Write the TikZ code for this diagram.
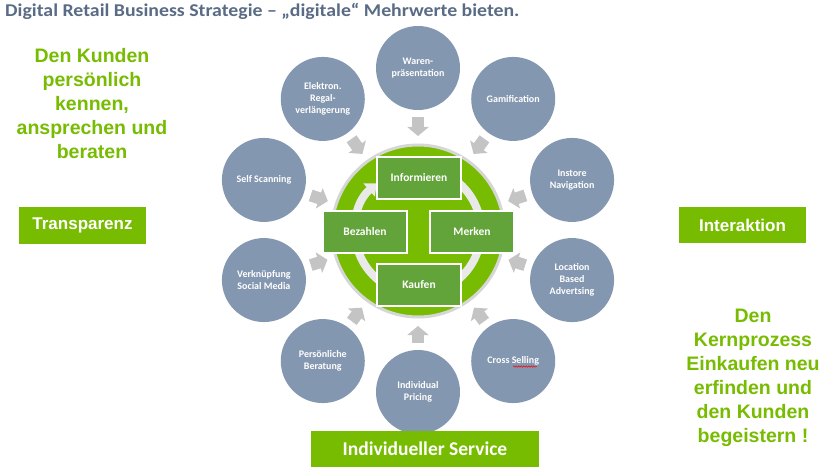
\documentclass[tikz,border=0pt]{standalone}
\usepackage{fontspec}
\setmainfont{Carlito}
\newfontfamily\arial{Liberation Sans}
\newfontfamily\titlefont{Carlito}[FakeStretch=1.1]
\usetikzlibrary{arrows.meta,decorations.pathmorphing}
\definecolor{kgreen}{HTML}{77BC00}
\definecolor{dgreen}{HTML}{62A33A}
\definecolor{slate}{HTML}{8497B0}
\definecolor{titlec}{HTML}{5A6C85}
\definecolor{agray}{HTML}{C4C4C4}
\definecolor{ringc}{HTML}{E9E9E9}
\definecolor{borderc}{HTML}{D6D6D6}
\begin{document}
\begin{tikzpicture}[x=1pt,y=1pt,
 sat/.style={circle, fill=slate, minimum size=84pt, inner sep=1pt, align=center, text=white, font=\bfseries\fontsize{10}{12}\selectfont},
 stage/.style={rectangle, fill=dgreen, draw=white, line width=1.2pt, minimum width=84pt, minimum height=42pt, text=white, font=\bfseries\fontsize{11.5}{13}\selectfont},
 tag/.style={rectangle, fill=kgreen, text=white, inner sep=0pt},
 claim/.style={align=center, text=kgreen, font=\arial\bfseries\fontsize{19.5}{24}\selectfont},
 feed/.style={draw=agray, line width=12pt, -{Triangle[width=21pt,length=9pt]}, shorten <=7pt, shorten >=7.5pt},
]
\useasboundingbox (0,0) rectangle (827,-468);
\fill[white] (0,0) rectangle (827,-468);

\node[anchor=base west, text=titlec, font=\titlefont\bfseries\fontsize{18}{22}\selectfont, inner sep=0pt] (title) at (5,-16.5) {Digital Retail Business Strategie – „digitale“ Mehrwerte bieten.};

\node[circle, fill=kgreen, draw=borderc, line width=3pt, minimum size=172pt] (core) at (418,-231) {};
\draw[ringc, line width=8pt, -{Triangle[width=17pt,length=10pt]}] ([shift={(480:63)}]core.center) arc[start angle=480, end angle=131, radius=63];

\node[stage] (inf) at (419,-178) {Informieren};
\node[stage] (bez) at (365,-232) {Bezahlen};
\node[stage] (mer) at (472,-232) {Merken};
\node[stage] (kau) at (419,-285) {Kaufen};

\foreach \a/\n/\t in {90/s1/{Waren-\\präsentation}, 54/s2/{Gamification}, 18/s3/{Instore\\Navigation}, -18/s4/{Location\\Based\\Advertsing}, -54/s5/{Cross Selling}, -90/s6/{Individual\\Pricing}, -126/s7/{Persönliche\\Beratung}, -162/s8/{Verknüpfung\\Social Media}, 162/s9/{Self Scanning}, 126/s10/{Elektron.\\Regal-\\verlängerung}} {
  \node[sat] (\n) at ({418+162*cos(\a)},{-230+162*sin(\a)}) {\t};
  \draw[feed] (\n) -- (core);
}
\draw[red, line width=0.5pt, decorate, decoration={snake, amplitude=0.7pt, segment length=2.5pt}] (513,-366.5) -- (537,-366.5);

\node[claim] (left) at (92,-104) {Den Kunden\\persönlich\\kennen,\\ansprechen und\\beraten};
\node[claim] (right) at (753,-378) {Den\\Kernprozess\\Einkaufen neu\\erfinden und\\den Kunden\\begeistern !};

\node[tag, minimum width=127pt, minimum height=37pt, font=\arial\bfseries\fontsize{17}{20}\selectfont] (t1) at (82.5,-225.5) {Transparenz};
\node[tag, minimum width=127pt, minimum height=36pt, font=\arial\bfseries\fontsize{17}{20}\selectfont] (t2) at (742.5,-225) {Interaktion};
\node[tag, minimum width=228pt, minimum height=36pt, font=\bfseries\fontsize{19.5}{22}\selectfont] (t3) at (425,-449) {Individueller Service};
\end{tikzpicture}
\end{document}
